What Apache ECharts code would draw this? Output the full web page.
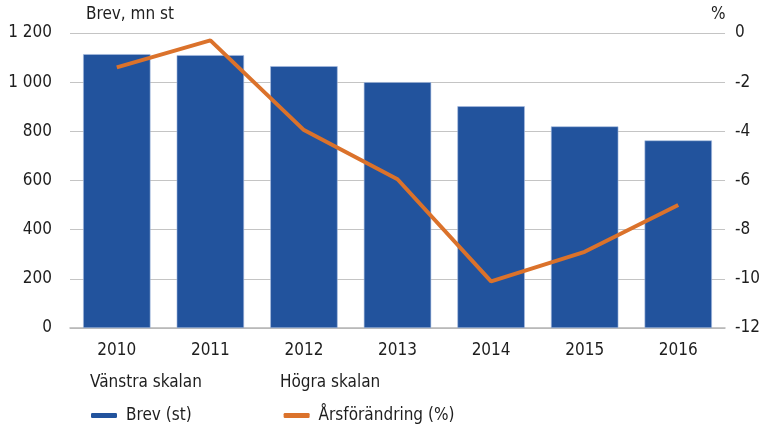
<!DOCTYPE html>
<html>
<head>
<meta charset="utf-8">
<script src="https://cdn.jsdelivr.net/npm/echarts@6/dist/echarts.min.js"></script>
<style>
  html, body { margin: 0; padding: 0; background: #fff; }
  #chart { width: 763px; height: 430px; }
</style>
</head>
<body>
<div id="chart"></div>
<script>
const years = ["2010", "2011", "2012", "2013", "2014", "2015", "2016"];
const letters = [1114, 1110, 1065, 1000, 902, 820, 763];
const yearlyChange = [-1.4, -0.3, -3.95, -5.95, -10.1, -8.9, -7.0];

const FONT = '"Liberation Sans Narrow", "DejaVu Sans Condensed", sans-serif';
const BLUE = "#22539d";
const ORANGE = "#db722b";
const TEXT = "#1e1e1e";

const chart = echarts.init(document.getElementById("chart"));

chart.setOption({
    animation: false,
    backgroundColor: "#fff",
    textStyle: {fontFamily: FONT, color: TEXT},
    grid: {left: 70, right: 35, top: 33, bottom: 102, containLabel: false},
    graphic: [
        {type: "text", left: 86, top: 6, style: {text: "Brev, mn st", font: "17px " + FONT, fill: TEXT}},
        {type: "text", left: 711, top: 6, style: {text: "%", font: "17px " + FONT, fill: TEXT}},
        {type: "text", left: 90, top: 374, style: {text: "Vänstra skalan", font: "17px " + FONT, fill: TEXT}},
        {type: "text", left: 280, top: 374, style: {text: "Högra skalan", font: "17px " + FONT, fill: TEXT}}
    ],
    legend: {
        left: 86,
        top: 402,
        itemGap: 92,
        itemWidth: 26,
        itemHeight: 5,
        textStyle: {fontFamily: FONT, fontSize: 17, color: TEXT, padding: [0, 0, 0, 4]},
        data: [
            {name: "Brev (st)", icon: "roundRect", itemStyle: {color: BLUE, borderWidth: 0}},
            {name: "Årsförändring (%)", icon: "roundRect", itemStyle: {color: ORANGE, borderWidth: 0}}
        ]
    },
    xAxis: {
        type: "category",
        data: years,
        axisLine: {lineStyle: {color: "#b5b5b5", width: 1.5}},
        axisTick: {show: false},
        axisLabel: {fontFamily: FONT, fontSize: 17, color: TEXT, margin: 14}
    },
    yAxis: [
        {
            type: "value",
            min: 0,
            max: 1200,
            interval: 200,
            axisLine: {show: false},
            axisTick: {show: false},
            axisLabel: {
                fontFamily: FONT, fontSize: 17, color: TEXT, margin: 18,
                formatter: v => v >= 1000 ? String(v).replace(/(\d)(\d{3})$/, "$1 $2") : String(v)
            },
            splitLine: {lineStyle: {color: "#c4c4c4", width: 1.2}}
        },
        {
            type: "value",
            min: -12,
            max: 0,
            interval: 2,
            position: "right",
            axisLine: {show: false},
            axisTick: {show: false},
            axisLabel: {fontFamily: FONT, fontSize: 17, color: TEXT, margin: 10},
            splitLine: {show: false}
        }
    ],
    series: [
        {
            name: "Brev (st)",
            type: "bar",
            yAxisIndex: 0,
            data: letters,
            barWidth: "72%",
            itemStyle: {color: BLUE, borderColor: "#a9bde0", borderWidth: 0.6}
        },
        {
            name: "Årsförändring (%)",
            type: "line",
            yAxisIndex: 1,
            data: yearlyChange,
            symbol: "none",
            lineStyle: {color: ORANGE, width: 4},
            z: 5
        }
    ]
});
</script>
</body>
</html>
